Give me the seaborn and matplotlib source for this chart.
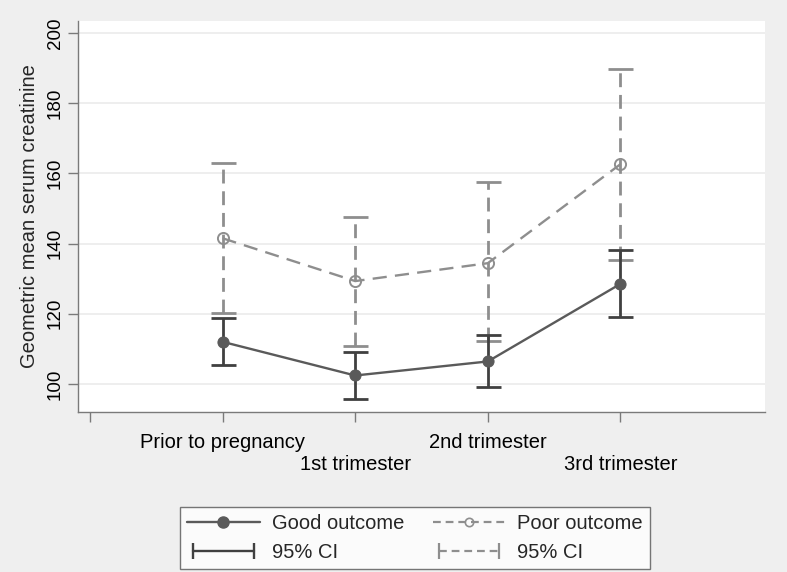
import numpy as np
import pandas as pd
import matplotlib
matplotlib.use("Agg")
import matplotlib.pyplot as plt
import seaborn as sns
from matplotlib.lines import Line2D
from matplotlib.legend_handler import HandlerLine2D

# Data
periods = ["Prior to pregnancy", "1st trimester", "2nd trimester", "3rd trimester"]
good_mean = [112.0, 102.4, 106.4, 128.5]
good_lo = [105.3, 95.8, 99.2, 119.0]
good_hi = [118.7, 109.0, 113.8, 138.2]
poor_mean = [141.5, 129.3, 134.4, 162.6]
poor_lo = [120.2, 110.9, 112.1, 135.2]
poor_hi = [162.9, 147.5, 157.4, 189.8]

df = pd.DataFrame({
    "pos": list(range(1, 5)) * 2,
    "value": good_mean + poor_mean,
    "group": ["Good outcome"] * 4 + ["Poor outcome"] * 4,
})

good_col = "#5a5a5a"
good_ci_col = "#404040"
poor_col = "#8e8e8e"
bg = "#efefef"

sns.set_style("white")
plt.rcParams["font.family"] = ["Liberation Sans", "DejaVu Sans"]

fig = plt.figure(figsize=(7.87, 5.72), dpi=100, facecolor=bg)
ax = fig.add_axes([78 / 787, 1 - 412 / 572, (765 - 78) / 787, (412 - 21) / 572])
ax.set_facecolor("white")

# gridlines
for y in [100, 120, 140, 160, 180, 200]:
    ax.axhline(y, color="#ebebeb", lw=1.2, zorder=0)

# CIs
x = np.arange(1, 5)
eb = ax.errorbar(x, poor_mean, yerr=[np.array(poor_mean) - poor_lo, np.array(poor_hi) - poor_mean],
                 fmt="none", ecolor=poor_col, elinewidth=2, capsize=9, capthick=2, zorder=2)
eb[2][0].set_linestyle((0, (5, 2.8)))
ax.errorbar(x, good_mean, yerr=[np.array(good_mean) - good_lo, np.array(good_hi) - good_mean],
            fmt="none", ecolor=good_ci_col, elinewidth=2, capsize=9, capthick=2, zorder=3)

# lines
sns.lineplot(data=df[df.group == "Good outcome"], x="pos", y="value", ax=ax,
             color=good_col, lw=1.7, marker="o", markersize=8,
             markerfacecolor=good_col, markeredgecolor=good_col, zorder=4)
sns.lineplot(data=df[df.group == "Poor outcome"], x="pos", y="value", ax=ax,
             color=poor_col, lw=1.7, linestyle=(0, (6, 3.5)), marker="o", markersize=8,
             markerfacecolor="none", markeredgecolor=poor_col, markeredgewidth=1.4, zorder=4)

ax.set_xlim(-0.09, 5.09)
ax.set_ylim(92.0, 203.4)
ax.set_xticks([0, 1, 2, 3, 4])
ax.set_xticklabels(["", periods[0], "\n" + periods[1], periods[2], "\n" + periods[3]])
ax.set_yticks([100, 120, 140, 160, 180, 200])
ax.set_yticklabels(["100", "120", "140", "160", "180", "200"], rotation=90, va="center")
ax.tick_params(axis="both", bottom=True, left=True, colors="#7a7a7a", labelcolor="black",
               length=7, width=1, direction="out")
ax.tick_params(axis="x", labelsize=14.5, pad=8)
ax.tick_params(axis="y", labelsize=13.5, pad=3)
ax.set_xlabel("")
ax.set_ylabel("Geometric mean serum creatinine", fontsize=14.5, labelpad=6)

for s in ["top", "right"]:
    ax.spines[s].set_visible(False)
for s in ["left", "bottom"]:
    ax.spines[s].set_color("#7a7a7a")
    ax.spines[s].set_linewidth(1)

# legend
h_good = Line2D([], [], color=good_col, lw=1.7, marker="o", markersize=8)
h_poor = Line2D([], [], color=poor_col, lw=1.6, linestyle=(0, (3.5, 2.2)), marker="o", markersize=6,
                markerfacecolor="none", markeredgewidth=1.2)
h_gci = Line2D([], [], color=good_ci_col, lw=1.7, marker="|", markersize=11, markeredgewidth=1.7)
h_pci = Line2D([], [], color=poor_col, lw=1.6, linestyle=(0, (3.5, 2.2)), marker="|", markersize=11,
               markeredgewidth=1.6)
leg = fig.legend([h_good, h_gci, h_poor, h_pci],
                 ["Good outcome", "95% CI", "Poor outcome", "95% CI"],
                 ncol=2, loc="lower left",
                 bbox_to_anchor=(180 / 787, 1 - 569 / 572, (650 - 180) / 787, (569 - 505) / 572),
                 mode="expand", fontsize=14.5, frameon=True, fancybox=False,
                 handlelength=3.6, handletextpad=0.6, borderpad=0.35, borderaxespad=0,
                 labelspacing=0.5, columnspacing=1.2,
                 handler_map={h_good: HandlerLine2D(numpoints=1), h_poor: HandlerLine2D(numpoints=1),
                              h_gci: HandlerLine2D(numpoints=2), h_pci: HandlerLine2D(numpoints=2)})
leg.get_frame().set_edgecolor("#555555")
leg.get_frame().set_linewidth(1)
leg.get_frame().set_facecolor("white")

fig.savefig("out.png", dpi=100, facecolor=bg)
